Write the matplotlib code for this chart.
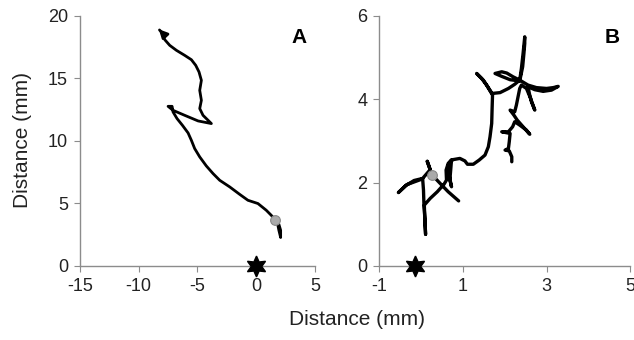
import matplotlib.pyplot as plt

plt.rcParams['font.family'] = ['Liberation Sans', 'DejaVu Sans']
plt.rcParams['axes.unicode_minus'] = False

# ---- panel A track (mm) ----
track_a_x = [1.56, 1.92, 2.07, 2.07, 1.92, 1.78, 1.27, 0.85, 0.14, -0.71,
             -1.42, -2.26, -3.11, -3.68, -4.25, -4.81, -5.24, -5.52, -5.80,
             -6.28, -6.74, -7.08, -7.16, -7.50, -7.08, -6.09, -4.95, -3.82,
             -4.53, -4.81, -4.67, -4.81, -4.67, -4.87, -5.15, -5.52, -6.09,
             -6.79, -7.36, -7.78, -8.07]
track_a_y = [3.65, 3.33, 2.85, 2.27, 2.85, 3.52, 4.05, 4.45, 4.99, 5.25,
             5.73, 6.32, 6.85, 7.39, 8.00, 8.72, 9.39, 10.05, 10.64,
             11.25, 11.79, 12.32, 12.77, 12.77, 12.45, 12.05, 11.60, 11.39,
             12.05, 12.59, 13.25, 14.05, 14.85, 15.52, 16.05, 16.50, 16.85,
             17.25, 17.65, 18.10, 18.72]
arrow_a_end = (-8.45, 19.1)
start_a = (1.56, 3.65)

# ---- panel B track (mm) ----
track_b_x = [0.90, 0.65, 0.42, 0.26, 0.22, 0.15, 0.22, 0.04, -0.165, -0.36,
             -0.54, -0.34, 0.04, 0.06, 0.07, 0.09, 0.11, 0.09, 0.08, 0.22,
             0.39, 0.55, 0.61, 0.60, 0.65, 0.73, 0.71, 0.69, 0.73, 0.68,
             0.65, 0.76, 0.93, 1.05, 1.11, 1.25, 1.39, 1.53, 1.61, 1.65,
             1.69, 1.70, 1.71, 1.57, 1.45, 1.33, 1.49, 1.70, 1.89, 2.09,
             2.24, 2.36, 2.20, 2.05, 1.93, 1.77, 1.93, 2.13, 2.36, 2.43,
             2.46, 2.48, 2.48, 2.44, 2.40, 2.36, 2.56, 2.76, 3.00, 3.16,
             3.28, 3.12, 2.92, 2.72, 2.56, 2.59, 2.64, 2.72, 2.62, 2.52,
             2.40, 2.36, 2.28, 2.24, 2.13, 2.22, 2.30, 2.44, 2.60, 2.52,
             2.36, 2.24, 2.19, 2.09, 1.93, 2.13, 2.11, 2.09, 2.01, 2.11,
             2.17, 2.17]
track_b_y = [1.56, 1.78, 2.02, 2.19, 2.31, 2.51, 2.31, 2.10, 2.05, 1.93,
             1.76, 1.95, 2.09, 1.82, 1.50, 1.18, 0.76, 1.18, 1.46, 1.62,
             1.78, 1.96, 2.06, 2.30, 2.46, 2.55, 2.30, 2.06, 1.90, 2.14,
             2.42, 2.55, 2.58, 2.52, 2.44, 2.44, 2.54, 2.66, 2.86, 3.10,
             3.42, 3.78, 4.10, 4.34, 4.50, 4.62, 4.46, 4.14, 4.16, 4.26,
             4.36, 4.46, 4.54, 4.63, 4.66, 4.62, 4.55, 4.47, 4.44, 4.78,
             5.10, 5.34, 5.50, 5.10, 4.74, 4.46, 4.34, 4.28, 4.26, 4.28,
             4.31, 4.22, 4.19, 4.23, 4.30, 4.14, 3.94, 3.74, 4.02, 4.26,
             4.34, 4.26, 3.86, 3.70, 3.74, 3.62, 3.50, 3.34, 3.16, 3.26,
             3.38, 3.46, 3.34, 3.22, 3.22, 3.18, 2.98, 2.82, 2.78, 2.76,
             2.62, 2.50]
start_b = (0.26, 2.19)

origin_a = (0, 0)
origin_b = (-0.15, 0)

fig = plt.figure(figsize=(6.34, 3.4), dpi=100)
ax_a = fig.add_axes([0.126, 0.218, 0.371, 0.735])
ax_b = fig.add_axes([0.598, 0.218, 0.396, 0.735])

spine_col = '#8c8c8c'


def style(ax, xlim, ylim, xticks, yticks, label):
    ax.set_xlim(*xlim)
    ax.set_ylim(*ylim)
    ax.set_xticks(xticks)
    ax.set_yticks(yticks)
    for s in ['top', 'right']:
        ax.spines[s].set_visible(False)
    for s in ['left', 'bottom']:
        ax.spines[s].set_color(spine_col)
        ax.spines[s].set_linewidth(1.0)
    ax.tick_params(direction='out', length=4.5, color=spine_col,
                   labelsize=13, labelcolor='#222222', pad=4)
    ax.text(0.93, 0.915, label, transform=ax.transAxes, fontsize=15,
            fontweight='bold', ha='center', va='center')


# panel A
ax_a.plot(track_a_x, track_a_y, color='black', lw=2.0, solid_capstyle='round',
          solid_joinstyle='round')
ax_a.annotate('', xy=arrow_a_end, xytext=(track_a_x[-1], track_a_y[-1]),
              arrowprops=dict(arrowstyle='-|>', color='black', lw=2.0,
                              mutation_scale=12))
ax_a.plot(*start_a, 'o', ms=7, mfc='#aaaaaa', mec='#888888', mew=0.8, zorder=4)
ax_a.plot(*origin_a, marker=(6, 1, 0), ms=15, color='black', clip_on=False,
          zorder=5)
style(ax_a, (-15, 5), (0, 20), [-15, -10, -5, 0, 5], [0, 5, 10, 15, 20], 'A')

# panel B
ax_b.plot(track_b_x, track_b_y, color='black', lw=2.4, solid_capstyle='round',
          solid_joinstyle='round')
ax_b.plot(*start_b, 'o', ms=7, mfc='#aaaaaa', mec='#888888', mew=0.8, zorder=4)
ax_b.plot(*origin_b, marker=(6, 1, 0), ms=15, color='black', clip_on=False,
          zorder=5)
style(ax_b, (-1, 5), (0, 6), [-1, 1, 3, 5], [0, 2, 4, 6], 'B')

fig.text(0.563, 0.06, 'Distance (mm)', ha='center', va='center', fontsize=15,
         color='#222222')
fig.text(0.035, 0.588, 'Distance (mm)', ha='center', va='center',
         rotation=90, fontsize=15, color='#222222')

plt.savefig('out.png', dpi=100)
